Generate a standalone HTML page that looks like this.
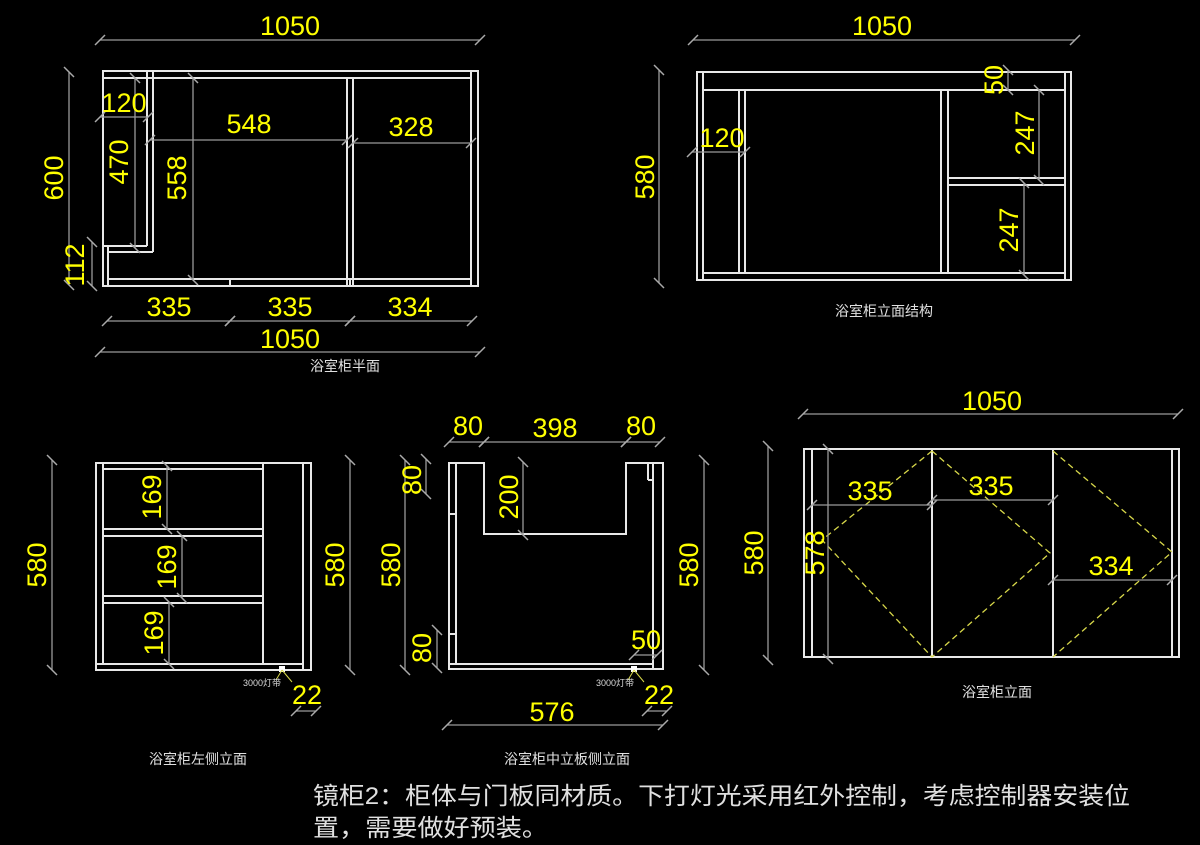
<!DOCTYPE html>
<html><head><meta charset="utf-8"><style>
html,body{margin:0;padding:0;background:#000;}
svg{display:block}
.w{stroke:#e8e8e8;stroke-width:2;fill:none}
.d{stroke:#9a9a9a;stroke-width:1.3;fill:none;marker-start:url(#t);marker-end:url(#t)}
.y{fill:#ffff00;font-family:"Liberation Sans",sans-serif;font-size:27px;text-anchor:middle}
.c{fill:#e0e0e0;font-family:"Liberation Sans","Noto Sans CJK SC",sans-serif;font-size:14px;text-anchor:middle}
.s{fill:#d8d8d8;font-family:"Liberation Sans","Noto Sans CJK SC",sans-serif;font-size:9px}
.dash{stroke:#d8d84a;stroke-width:1.3;fill:none;stroke-dasharray:6 4}
</style></head><body>
<svg width="1200" height="845" viewBox="0 0 1200 845" xmlns="http://www.w3.org/2000/svg">
<defs><marker id="t" markerWidth="12" markerHeight="12" refX="6" refY="6" orient="auto" markerUnits="userSpaceOnUse"><line x1="1" y1="11" x2="11" y2="1" stroke="#aaa" stroke-width="1.5"/></marker></defs>
<rect width="1200" height="845" fill="#000"/>

<!-- View 1 plan -->
<g class="w">
<rect x="103" y="71" width="375" height="215"/>
<line x1="103" y1="78" x2="471" y2="78"/>
<line x1="471" y1="71" x2="471" y2="286"/>
<line x1="147" y1="71" x2="147" y2="246"/>
<line x1="153" y1="71" x2="153" y2="252"/>
<line x1="103" y1="246" x2="147" y2="246"/>
<line x1="108" y1="252" x2="153" y2="252"/>
<line x1="108" y1="246" x2="108" y2="286"/>
<line x1="347" y1="78" x2="347" y2="286"/>
<line x1="353" y1="78" x2="353" y2="286"/>
<line x1="108" y1="279" x2="471" y2="279"/>
<line x1="230" y1="279" x2="230" y2="286"/>
<line x1="350" y1="279" x2="350" y2="286"/>
</g>
<g class="d">
<line x1="100" y1="40" x2="480" y2="40"/>
<line x1="100" y1="117" x2="148" y2="117"/>
<line x1="150" y1="140" x2="347" y2="140"/>
<line x1="353" y1="143" x2="471" y2="143"/>
<line x1="135" y1="78" x2="135" y2="248"/>
<line x1="193" y1="78" x2="193" y2="280"/>
<line x1="69" y1="72" x2="69" y2="285"/>
<line x1="92" y1="242" x2="92" y2="286"/>
<line x1="107" y1="321" x2="230" y2="321"/>
<line x1="230" y1="321" x2="350" y2="321"/>
<line x1="350" y1="321" x2="472" y2="321"/>
<line x1="100" y1="352" x2="480" y2="352"/>
</g>
<text class="y" x="290" y="35">1050</text>
<text class="y" x="124" y="112">120</text>
<text class="y" x="249" y="133">548</text>
<text class="y" x="411" y="136">328</text>
<text class="y" transform="translate(128,162) rotate(-90)">470</text>
<text class="y" transform="translate(186,178) rotate(-90)">558</text>
<text class="y" transform="translate(63,178) rotate(-90)">600</text>
<text class="y" transform="translate(84,265) rotate(-90)">112</text>
<text class="y" x="169" y="316">335</text>
<text class="y" x="290" y="316">335</text>
<text class="y" x="410" y="316">334</text>
<text class="y" x="290" y="348">1050</text>
<text class="c" x="345" y="371">浴室柜半面</text>

<!-- View 2 -->
<g class="w">
<rect x="697" y="72" width="374" height="208"/>
<line x1="703" y1="72" x2="703" y2="280"/>
<line x1="1065" y1="72" x2="1065" y2="280"/>
<line x1="703" y1="90" x2="1065" y2="90"/>
<line x1="703" y1="273" x2="1065" y2="273"/>
<line x1="739" y1="90" x2="739" y2="273"/>
<line x1="745" y1="90" x2="745" y2="273"/>
<line x1="941" y1="90" x2="941" y2="273"/>
<line x1="948" y1="90" x2="948" y2="273"/>
<line x1="948" y1="178" x2="1065" y2="178"/>
<line x1="948" y1="185" x2="1065" y2="185"/>
</g>
<g class="d">
<line x1="693" y1="40" x2="1075" y2="40"/>
<line x1="659" y1="70" x2="659" y2="283"/>
<line x1="692" y1="152" x2="745" y2="152"/>
<line x1="1008" y1="70" x2="1008" y2="90"/>
<line x1="1039" y1="90" x2="1039" y2="180"/>
<line x1="1024" y1="183" x2="1024" y2="275"/>
</g>
<text class="y" x="882" y="35">1050</text>
<text class="y" transform="translate(654,177) rotate(-90)">580</text>
<text class="y" x="722" y="147">120</text>
<text class="y" transform="translate(1003,80) rotate(-90)">50</text>
<text class="y" transform="translate(1034,133) rotate(-90)">247</text>
<text class="y" transform="translate(1018,230) rotate(-90)">247</text>
<text class="c" x="884" y="316">浴室柜立面结构</text>

<!-- View 3 left side -->
<g class="w">
<rect x="96" y="463" width="215" height="207"/>
<line x1="103" y1="463" x2="103" y2="664"/>
<line x1="103" y1="469" x2="263" y2="469"/>
<line x1="263" y1="463" x2="263" y2="664"/>
<line x1="303" y1="463" x2="303" y2="670"/>
<line x1="96" y1="664" x2="303" y2="664"/>
<line x1="103" y1="529" x2="263" y2="529"/>
<line x1="103" y1="536" x2="263" y2="536"/>
<line x1="103" y1="596" x2="263" y2="596"/>
<line x1="103" y1="603" x2="263" y2="603"/>
</g>
<g class="d">
<line x1="167" y1="466" x2="167" y2="529"/>
<line x1="182" y1="536" x2="182" y2="598"/>
<line x1="169" y1="602" x2="169" y2="664"/>
<line x1="52" y1="460" x2="52" y2="670"/>
<line x1="350" y1="460" x2="350" y2="670"/>
<line x1="296" y1="711" x2="316" y2="711"/>
</g>
<rect x="279" y="666" width="6" height="6" fill="#fff"/>
<path d="M282 670 L276 680 M282 670 L292 682" stroke="#d8d84a" stroke-width="1" fill="none"/>
<text class="s" x="243" y="686">3000灯带</text>
<text class="y" x="307" y="704">22</text>
<text class="y" transform="translate(161,497) rotate(-90)">169</text>
<text class="y" transform="translate(176,567) rotate(-90)">169</text>
<text class="y" transform="translate(163,633) rotate(-90)">169</text>
<text class="y" transform="translate(46,565) rotate(-90)">580</text>
<text class="y" transform="translate(344,565) rotate(-90)">580</text>
<text class="c" x="198" y="764">浴室柜左侧立面</text>

<!-- View 4 middle -->
<g class="w">
<path d="M449 463 L484 463 L484 534 L626 534 L626 463 L663 463 L663 669 L449 669 Z"/>
<line x1="456" y1="463" x2="456" y2="664"/>
<line x1="449" y1="664" x2="653" y2="664"/>
<line x1="653" y1="463" x2="653" y2="669"/>
<line x1="449" y1="514" x2="456" y2="514"/>
<line x1="449" y1="463" x2="449" y2="514"/>
<line x1="449" y1="634" x2="456" y2="634"/>
<line x1="648" y1="463" x2="648" y2="480"/>
<line x1="648" y1="480" x2="653" y2="480"/>
</g>
<g class="d">
<line x1="449" y1="442" x2="484" y2="442"/>
<line x1="484" y1="442" x2="626" y2="442"/>
<line x1="626" y1="442" x2="660" y2="442"/>
<line x1="426" y1="459" x2="426" y2="494"/>
<line x1="405" y1="460" x2="405" y2="670"/>
<line x1="437" y1="630" x2="437" y2="668"/>
<line x1="523" y1="462" x2="523" y2="535"/>
<line x1="704" y1="460" x2="704" y2="670"/>
<line x1="634" y1="655" x2="657" y2="655"/>
<line x1="447" y1="725" x2="663" y2="725"/>
<line x1="647" y1="711" x2="667" y2="711"/>
</g>
<rect x="631" y="666" width="6" height="6" fill="#fff"/>
<path d="M634 670 L628 680 M634 670 L644 682" stroke="#d8d84a" stroke-width="1" fill="none"/>
<text class="s" x="596" y="686">3000灯带</text>
<text class="y" x="659" y="704">22</text>
<text class="y" x="468" y="435">80</text>
<text class="y" x="555" y="437">398</text>
<text class="y" x="641" y="435">80</text>
<text class="y" transform="translate(421,480) rotate(-90)">80</text>
<text class="y" transform="translate(400,565) rotate(-90)">580</text>
<text class="y" transform="translate(431,648) rotate(-90)">80</text>
<text class="y" transform="translate(518,497) rotate(-90)">200</text>
<text class="y" transform="translate(698,565) rotate(-90)">580</text>
<text class="y" x="646" y="649">50</text>
<text class="y" x="552" y="721">576</text>
<text class="c" x="567" y="764">浴室柜中立板侧立面</text>

<!-- View 5 -->
<g class="w">
<rect x="804" y="449" width="375" height="208"/>
<line x1="812" y1="449" x2="812" y2="657"/>
<line x1="1172" y1="449" x2="1172" y2="657"/>
<line x1="932" y1="449" x2="932" y2="657"/>
<line x1="1053" y1="449" x2="1053" y2="657"/>
</g>
<g class="dash">
<path d="M932 451 L822 540 L932 657"/>
<path d="M932 451 L1050 553 L932 657"/>
<path d="M1053 451 L1172 552 L1053 657"/>
</g>
<g class="d">
<line x1="803" y1="414" x2="1178" y2="414"/>
<line x1="768" y1="446" x2="768" y2="660"/>
<line x1="828" y1="449" x2="828" y2="659"/>
<line x1="812" y1="505" x2="932" y2="505"/>
<line x1="932" y1="500" x2="1053" y2="500"/>
<line x1="1053" y1="580" x2="1172" y2="580"/>
</g>
<text class="y" x="992" y="410">1050</text>
<text class="y" transform="translate(763,553) rotate(-90)">580</text>
<text class="y" transform="translate(824,553) rotate(-90)">578</text>
<text class="y" x="870" y="500">335</text>
<text class="y" x="991" y="495">335</text>
<text class="y" x="1111" y="575">334</text>
<text class="c" x="997" y="697">浴室柜立面</text>

<!-- note -->
<text x="313" y="804" fill="#e0e0e0" font-family="'Liberation Sans','Noto Sans CJK SC',sans-serif" font-size="24" textLength="817" lengthAdjust="spacingAndGlyphs">镜柜2：柜体与门板同材质。下打灯光采用红外控制，考虑控制器安装位</text>
<text x="313" y="836" fill="#e0e0e0" font-family="'Liberation Sans','Noto Sans CJK SC',sans-serif" font-size="24" textLength="235" lengthAdjust="spacingAndGlyphs">置，需要做好预装。</text>
</svg>
</body></html>
